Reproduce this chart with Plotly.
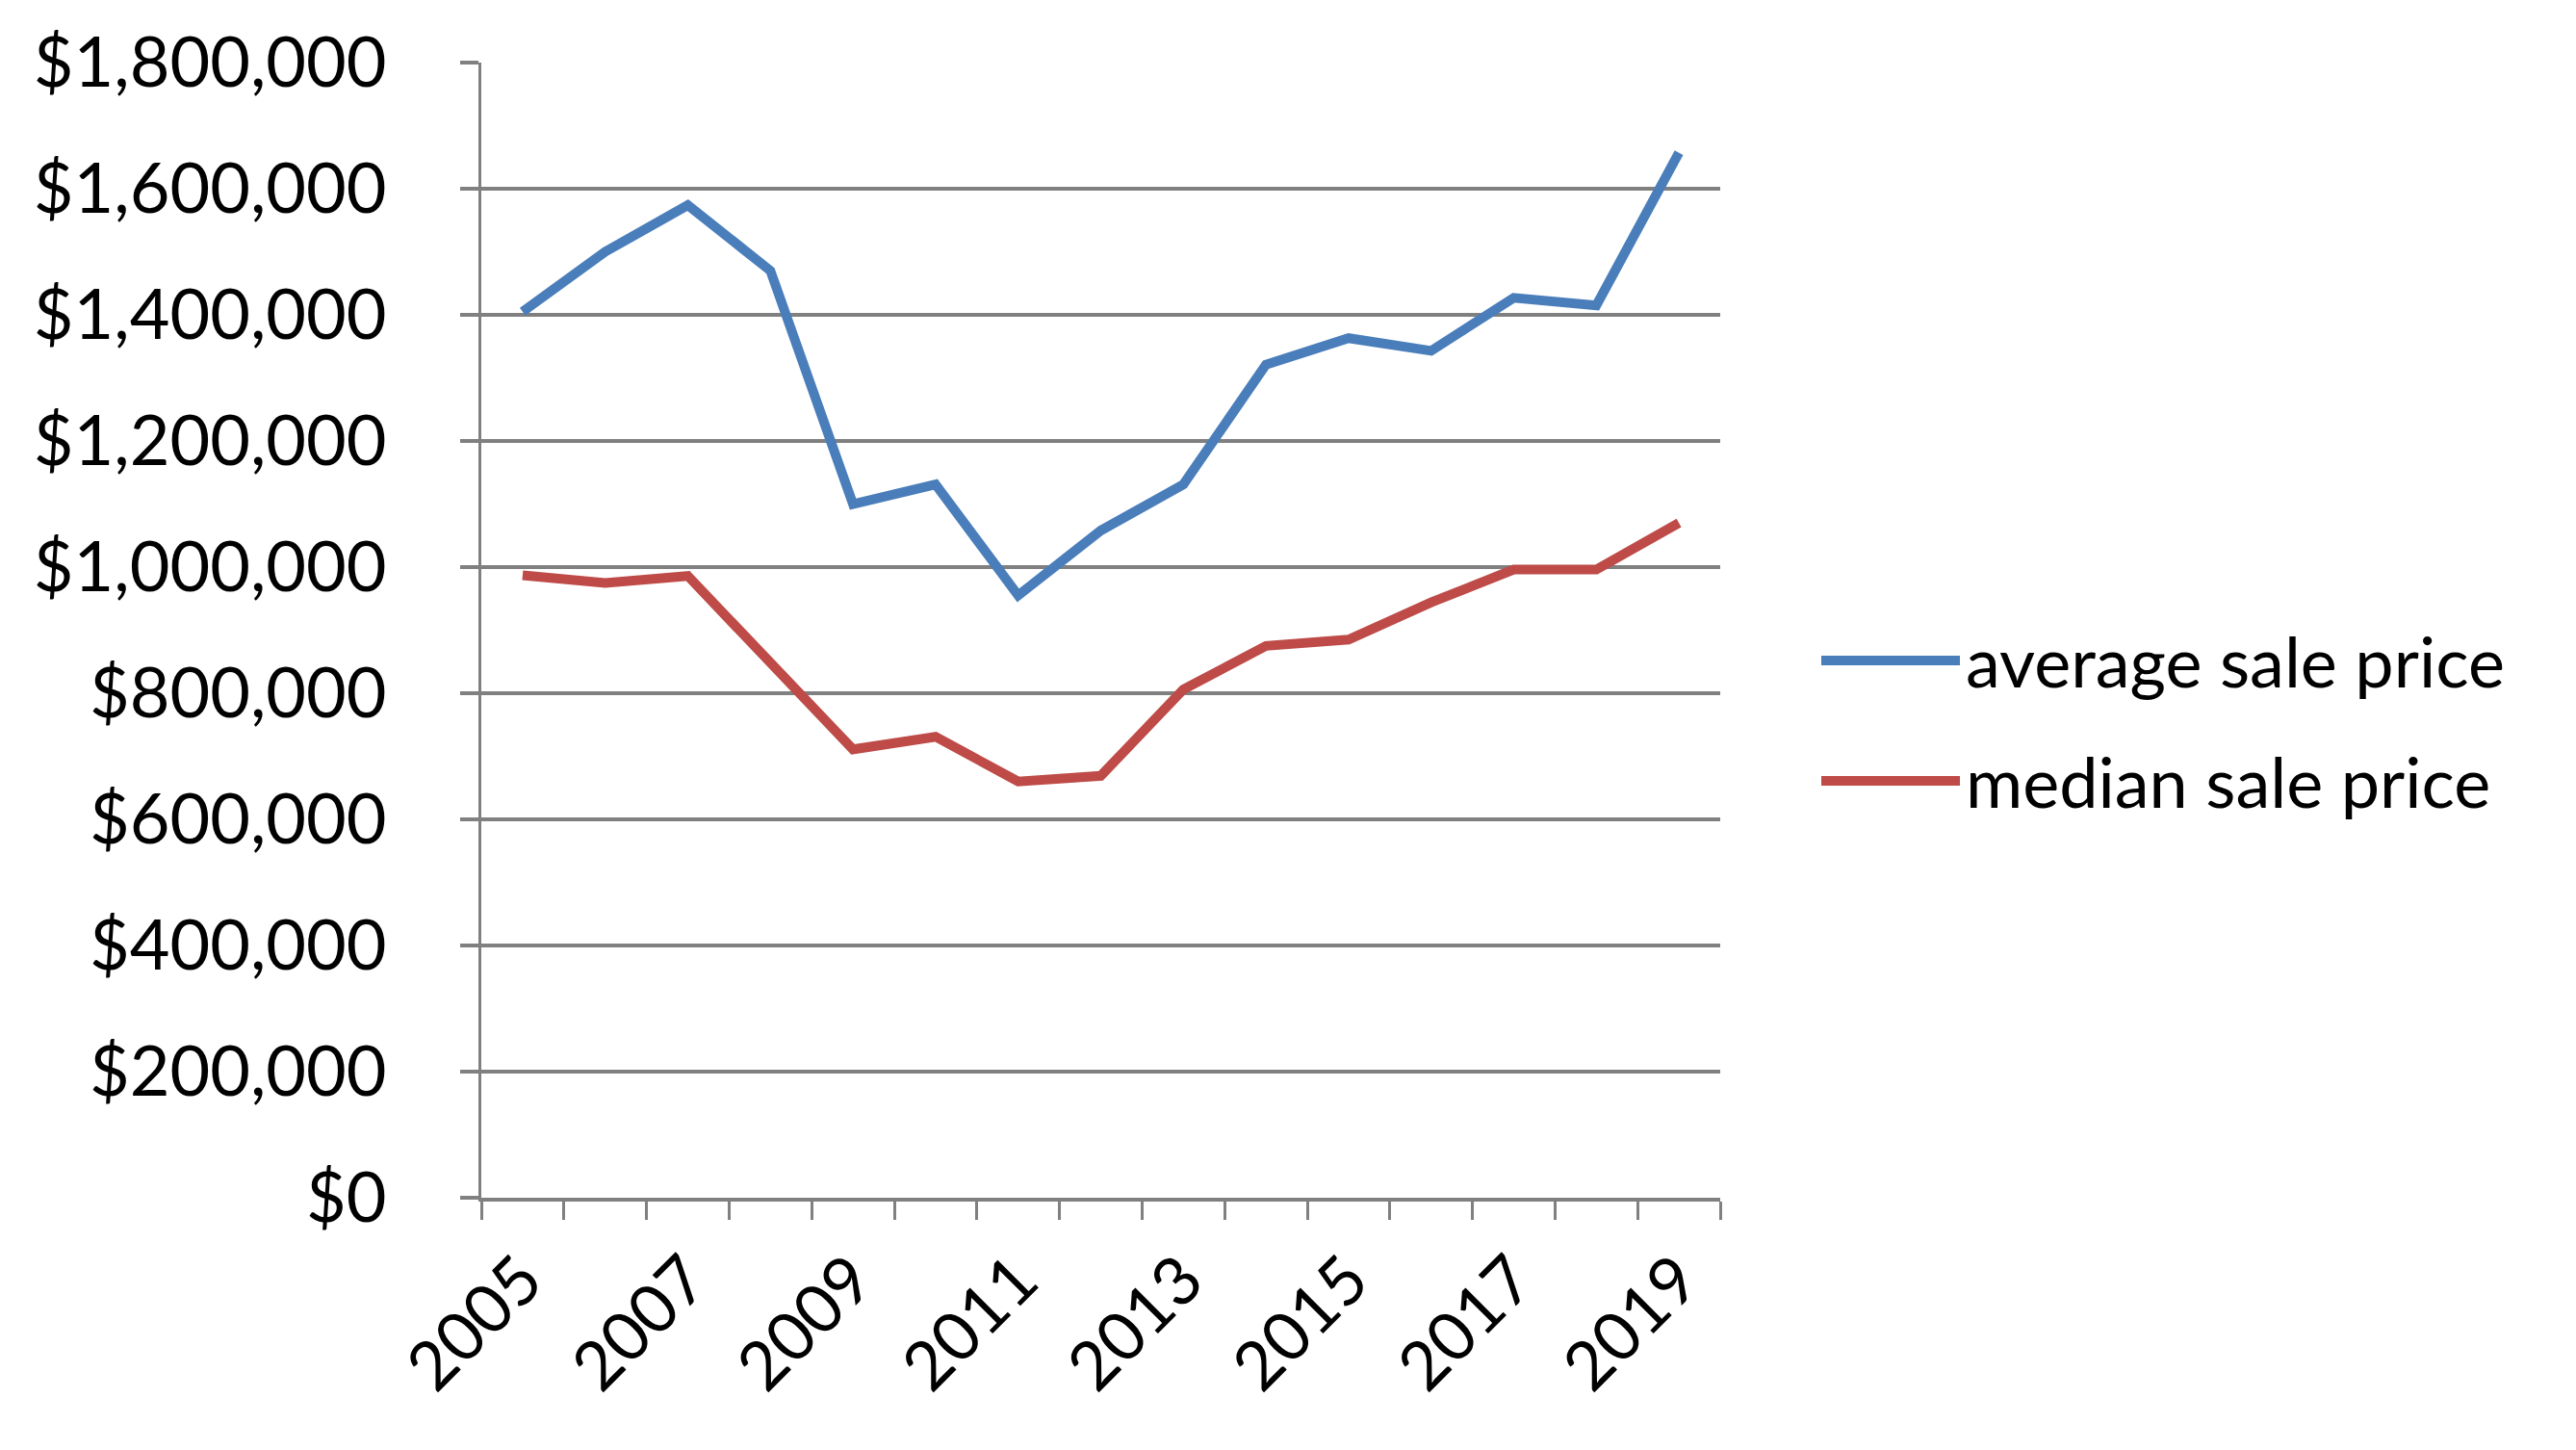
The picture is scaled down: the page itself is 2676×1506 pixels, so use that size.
import plotly.graph_objects as go

years = list(range(2005, 2020))
average_sale_price = [1405000, 1500000, 1574000, 1470000, 1100000, 1131000, 955000, 1058000,
                      1131000, 1321000, 1363000, 1343000, 1427000, 1415000, 1657000]
median_sale_price = [987000, 975000, 986000, 851000, 711000, 731000, 660000, 669000,
                     806000, 875000, 885000, 944000, 996000, 996000, 1070000]
series_names = ["average sale price", "median sale price"]
colors = ["#4A7EBB", "#BE4B48"]
y_ticks = list(range(0, 1800001, 200000))
x_labels = [str(y) for y in range(2005, 2020, 2)]

FONT = "Lato"
FS = 72
fig = go.Figure()
for name, vals, c in zip(series_names, [average_sale_price, median_sale_price], colors):
    fig.add_trace(go.Scatter(x=years, y=vals, mode="lines", name=name,
                             line=dict(color=c, width=10), showlegend=False))

W, H = 2676, 1506
L, R, T, B = 500, 2676 - 1787, 65, 1506 - 1244
fig.update_layout(
    width=W, height=H,
    margin=dict(l=L, r=R, t=T, b=B),
    plot_bgcolor="white", paper_bgcolor="white",
    font=dict(family=FONT, size=FS, color="black"),
    xaxis=dict(range=[2004.5, 2019.5], tickmode="array",
               tickvals=list(range(2005, 2020, 2)), ticktext=x_labels,
               ticks="", tickangle=-45, showgrid=False, zeroline=False,
               showline=True, linecolor="#808080", linewidth=4,
               ticklabelstandoff=12, tickfont=dict(size=70),
               minor=dict(tickmode="linear", tick0=2004.5, dtick=1, ticks="outside",
                          ticklen=19, tickcolor="#808080", tickwidth=3, showgrid=False)),
    yaxis=dict(range=[0, 1800000], tickmode="array", tickvals=y_ticks,
               tickformat="$,.0f", showgrid=True, gridcolor="#808080", gridwidth=3.5,
               zeroline=False, showline=True, linecolor="#808080", linewidth=3,
               ticks="outside", ticklen=19, tickcolor="#808080", tickwidth=3.5,
               ticklabelstandoff=62),
)

# manual legend (paper coords)
legend_y = [686, 811]
for name, c, yy in zip(series_names, colors, legend_y):
    yp = 1 - (yy - T) / (H - T - B)
    x0 = (1892 - L) / (W - L - R)
    x1 = (2036 - L) / (W - L - R)
    fig.add_shape(type="line", xref="paper", yref="paper", x0=x0, x1=x1, y0=yp, y1=yp,
                  line=dict(color=c, width=10))
    fig.add_annotation(xref="paper", yref="paper", x=(2040 - L) / (W - L - R), y=yp,
                       text=name, showarrow=False, xanchor="left", yanchor="middle",
                       font=dict(family=FONT, size=FS, color="black"))

fig.write_html("out.html")
